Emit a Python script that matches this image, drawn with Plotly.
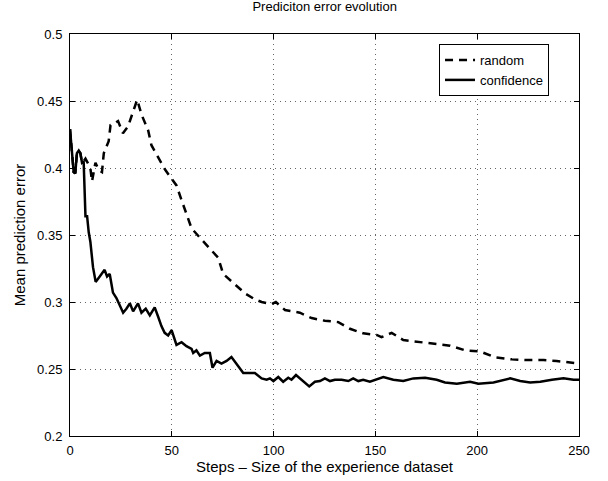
import plotly.graph_objects as go

# values
conf_x = [0, 1, 1.8, 2.6, 3.4, 4.3, 5.1, 5.9, 6.7, 7.6, 8.4, 9.2, 10, 11.3, 12.6,
          14.6, 17, 18.2, 19.5, 20.3, 21.1, 22.8, 24.4, 26.1, 27.7, 29.4, 31, 33.4,
          35.1, 37.2, 39.2, 41.6, 43.3, 44.9, 46.5, 48.2, 49.9, 52.3, 54.8, 57.2,
          59.7, 60.5, 62.1, 63.8, 66.2, 68.7, 70, 72, 74.4, 76.9, 79.3, 81.8, 85.1,
          88.4, 90.8, 94.1, 96.6, 98.2, 99.9, 102.3, 104.7, 107.2, 108.8, 111, 113.8,
          117.5, 120.3, 122.8, 125.2, 127.7, 130.1, 133.4, 136.7, 139.1, 141.6, 144,
          147.3, 151.4, 153.9, 158.8, 163.7, 168.6, 174.4, 180.1, 184.2, 190, 196.5,
          200.6, 208, 216.2, 221.1, 226, 231, 236.7, 242.4, 247.3, 250]
conf_y = [0.429, 0.411, 0.397, 0.396, 0.411, 0.413, 0.411, 0.404, 0.405, 0.364, 0.364,
          0.352, 0.345, 0.326, 0.315, 0.319, 0.324, 0.319, 0.321, 0.314, 0.307, 0.303,
          0.298, 0.292, 0.295, 0.299, 0.293, 0.299, 0.292, 0.295, 0.290, 0.296, 0.289,
          0.282, 0.277, 0.275, 0.279, 0.268, 0.270, 0.267, 0.265, 0.262, 0.264, 0.260,
          0.262, 0.262, 0.251, 0.256, 0.254, 0.256, 0.259, 0.254, 0.247, 0.247, 0.247,
          0.243, 0.242, 0.243, 0.241, 0.244, 0.2405, 0.2435, 0.242, 0.2455, 0.242,
          0.237, 0.2405, 0.241, 0.243, 0.241, 0.242, 0.242, 0.241, 0.243, 0.241, 0.242,
          0.2405, 0.243, 0.244, 0.242, 0.241, 0.243, 0.2435, 0.242, 0.240, 0.239,
          0.2405, 0.239, 0.240, 0.243, 0.241, 0.240, 0.2405, 0.242, 0.243, 0.242, 0.242]

rand_x = [0, 1, 1.8, 2.6, 3.4, 4.3, 5.1, 5.9, 6.7, 7.6, 8.8, 10, 10.8, 12.5, 14.1,
          15.7, 16.6, 19, 19.9, 21.5, 23.6, 26, 28.5, 31, 33, 35.1, 38.4, 40, 43.3,
          46.6, 49.9, 52.3, 54.8, 57.2, 59.7, 63.8, 68, 72.8, 75.2, 80.2, 85.9, 90.8,
          94.1, 99, 101.1, 105.6, 107.2, 112.9, 118.7, 125.2, 131.8, 137.5, 144, 150.6,
          153, 158, 163.7, 172, 179.3, 186.7, 194, 201.5, 208.8, 217, 224.4, 232.6,
          239, 245.7, 250]
rand_y = [0.429, 0.411, 0.397, 0.396, 0.411, 0.413, 0.411, 0.404, 0.405, 0.407, 0.403,
          0.400, 0.390, 0.404, 0.3985, 0.397, 0.411, 0.420, 0.432, 0.433, 0.435, 0.426,
          0.431, 0.443, 0.451, 0.440, 0.428, 0.417, 0.408, 0.399, 0.392, 0.387, 0.376,
          0.366, 0.355, 0.348, 0.341, 0.333, 0.321, 0.314, 0.3065, 0.302, 0.300, 0.2985,
          0.300, 0.294, 0.2935, 0.292, 0.288, 0.286, 0.285, 0.280, 0.2766, 0.2754,
          0.2737, 0.277, 0.2716, 0.270, 0.2687, 0.2674, 0.264, 0.263, 0.2587, 0.2572,
          0.2567, 0.2567, 0.256, 0.2547, 0.254]

x_ticks = [0, 50, 100, 150, 200, 250]
y_ticks = [0.2, 0.25, 0.3, 0.35, 0.4, 0.45, 0.5]

FONT = "Liberation Sans, Arial, sans-serif"

fig = go.Figure()
fig.add_trace(go.Scatter(x=rand_x, y=rand_y, name="random", mode="lines",
                         line=dict(color="black", width=2.5, dash="8px,6px")))
fig.add_trace(go.Scatter(x=conf_x, y=conf_y, name="confidence", mode="lines",
                         line=dict(color="black", width=2.5)))

axis_style = dict(showline=True, linecolor="black", linewidth=1, mirror="ticks",
                  ticks="inside", ticklen=5, tickcolor="black", automargin=False,
                  showgrid=True, gridcolor="#666666", griddash="1px,4px", gridwidth=1,
                  zeroline=False, tickfont=dict(size=13, color="black"))

fig.update_xaxes(range=[0, 250], tickvals=x_ticks, ticktext=[str(v) for v in x_ticks],
                 ticklabelstandoff=2,
                 title=dict(text="Steps \u2013 Size of the experience dataset",
                            font=dict(size=15, color="black"), standoff=4),
                 **axis_style)
fig.update_yaxes(range=[0.2, 0.5], tickvals=y_ticks, ticktext=[f"{v:g}" for v in y_ticks],
                 ticklabelstandoff=4,
                 title=dict(text="Mean prediction error",
                            font=dict(size=15, color="black"), standoff=7),
                 **axis_style)

fig.update_layout(
    width=608, height=481,
    margin=dict(l=70, r=29, t=34, b=45),
    paper_bgcolor="white", plot_bgcolor="white",
    font=dict(family=FONT, color="black"),
    title=dict(text="Prediciton error evolution", x=0.534, xanchor="center",
               y=1, yanchor="top", pad=dict(t=2),
               font=dict(size=13, color="black")),
    legend=dict(x=0.725, y=0.975, xanchor="left", yanchor="top",
                bgcolor="white", bordercolor="black", borderwidth=1,
                font=dict(size=13, color="black"), tracegroupgap=0,
                itemwidth=30),
    showlegend=True,
)

# drop the browser's default 8px body margin so the figure sits at the page corner
fig.write_html("out.html", config={"displayModeBar": False},
               post_script="document.body.style.margin='0';")
